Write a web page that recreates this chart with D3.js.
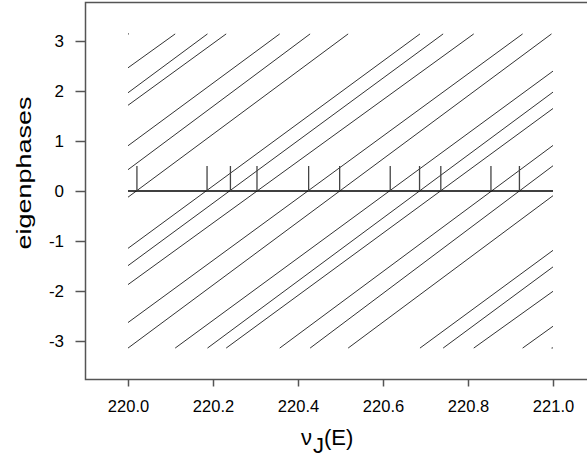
<!DOCTYPE html>
<html>
<head>
<meta charset="utf-8">
<script src="https://cdn.jsdelivr.net/npm/d3@7"></script>
<style>
  body { margin: 0; background: #fff; }
  svg { display: block; font-family: "Liberation Sans", Arial, sans-serif; }
</style>
</head>
<body>
<div id="chart"></div>
<script>
// eigenphases vs nu_J(E)
// each eigenphase: value at E=220, energy where it wraps pi -> -pi, value at E=221
var phaseAt220 = [-0.124, -1.147, -1.493, -1.872, -2.631, -3.1416, 2.464, 1.965, 1.714, 0.905, 0.426];
var wrapE      = [220.518, 220.687, 220.7415, 220.8135, 220.9285, 220.9965, 220.111, 220.187, 220.231, 220.357, 220.4285];
var phaseAt221 = [-0.094, -1.187, -1.518, -2.006, -2.705, -3.137, 2.398, 1.978, 1.650, 0.911, 0.505];
// zero crossings (small vertical markers)
var crossE = [220.021, 220.186, 220.241, 220.3035, 220.425, 220.498, 220.617, 220.686, 220.736, 220.854, 220.921];
var crossHeight = 0.5;
// stray point where a line leaves the window at pi
var edgeDots = [[220.0, 3.1416]];

var xTicks = [220.0, 220.2, 220.4, 220.6, 220.8, 221.0];
var yTicks = [-3, -2, -1, 0, 1, 2, 3];

var W = 587, H = 458;
var PI = Math.PI;

var x = d3.scaleLinear().domain([219.9, 221.1]).range([85.5, 595.5]);
var y = d3.scaleLinear().domain([-3.77, 3.77]).range([379.5, 2.5]);

var svg = d3.select("#chart").append("svg")
  .attr("width", W)
  .attr("height", H);

// segments built from the arrays
var segs = [];
phaseAt220.forEach(function(p, k) {
  segs.push([220.0, p, wrapE[k], PI]);
  segs.push([wrapE[k], -PI, 221.0, phaseAt221[k]]);
});

svg.append("g")
  .selectAll("line.seg")
  .data(segs)
  .enter().append("line")
  .attr("class", "seg")
  .attr("x1", function(d) { return x(d[0]); })
  .attr("y1", function(d) { return y(d[1]); })
  .attr("x2", function(d) { return x(d[2]); })
  .attr("y2", function(d) { return y(d[3]); })
  .attr("stroke", "#333")
  .attr("stroke-width", 1);

svg.append("g")
  .selectAll("line.dot")
  .data(edgeDots)
  .enter().append("line")
  .attr("x1", function(d) { return x(d[0]); })
  .attr("y1", function(d) { return y(d[1]); })
  .attr("x2", function(d) { return x(d[0]) + 1; })
  .attr("y2", function(d) { return y(d[1]); })
  .attr("stroke", "#333")
  .attr("stroke-width", 1);

// zero line
svg.append("line")
  .attr("x1", x(220.0))
  .attr("x2", x(221.0))
  .attr("y1", y(0))
  .attr("y2", y(0))
  .attr("stroke", "#000")
  .attr("stroke-width", 1.5);

// crossing markers
svg.append("g")
  .selectAll("line.cross")
  .data(crossE)
  .enter().append("line")
  .attr("x1", function(d) { return x(d); })
  .attr("x2", function(d) { return x(d); })
  .attr("y1", y(0))
  .attr("y2", y(crossHeight))
  .attr("stroke", "#444")
  .attr("stroke-width", 1.3);

// frame
svg.append("rect")
  .attr("x", x(219.9))
  .attr("y", y(3.77))
  .attr("width", x(221.1) - x(219.9))
  .attr("height", y(-3.77) - y(3.77))
  .attr("fill", "none")
  .attr("stroke", "#555")
  .attr("stroke-width", 1.5);

// axes
var yAxis = d3.axisLeft(y).tickValues(yTicks).tickSize(10).tickPadding(11.5)
  .tickFormat(d3.format("d"));
var xAxis = d3.axisBottom(x).tickValues(xTicks).tickSize(7).tickPadding(14)
  .tickFormat(d3.format(".1f"));

var gy = svg.append("g")
  .attr("transform", "translate(" + x(219.9) + ",0)")
  .call(yAxis);
gy.select(".domain").remove();
gy.selectAll("line").attr("stroke", "#555").attr("stroke-width", 1.5);
gy.selectAll("text")
  .attr("font-family", "Liberation Sans, Arial, sans-serif")
  .attr("font-size", 17)
  .attr("fill", "#000")
  .text(function(d) { return d < 0 ? "-" + Math.abs(d) : d; });

var gx = svg.append("g")
  .attr("transform", "translate(0," + y(-3.77) + ")")
  .call(xAxis);
gx.select(".domain").remove();
gx.selectAll("line").attr("stroke", "#555").attr("stroke-width", 1.5);
gx.selectAll("text")
  .attr("font-family", "Liberation Sans, Arial, sans-serif")
  .attr("font-size", 16.5)
  .attr("fill", "#000");

// y label
svg.append("text")
  .attr("transform", "rotate(-90)")
  .attr("x", -173)
  .attr("y", 31)
  .attr("text-anchor", "middle")
  .attr("font-size", 21)
  .attr("textLength", 153)
  .attr("lengthAdjust", "spacingAndGlyphs")
  .text("eigenphases");

// x label: nu_J(E)
var xl = svg.append("text")
  .attr("x", 301)
  .attr("y", 445)
  .attr("font-size", 22);
xl.append("tspan").text("\u03bd");
xl.append("tspan").attr("dy", 8).attr("dx", 1).text("J");
xl.append("tspan").attr("dy", -8).text("(E)");
</script>
</body>
</html>
